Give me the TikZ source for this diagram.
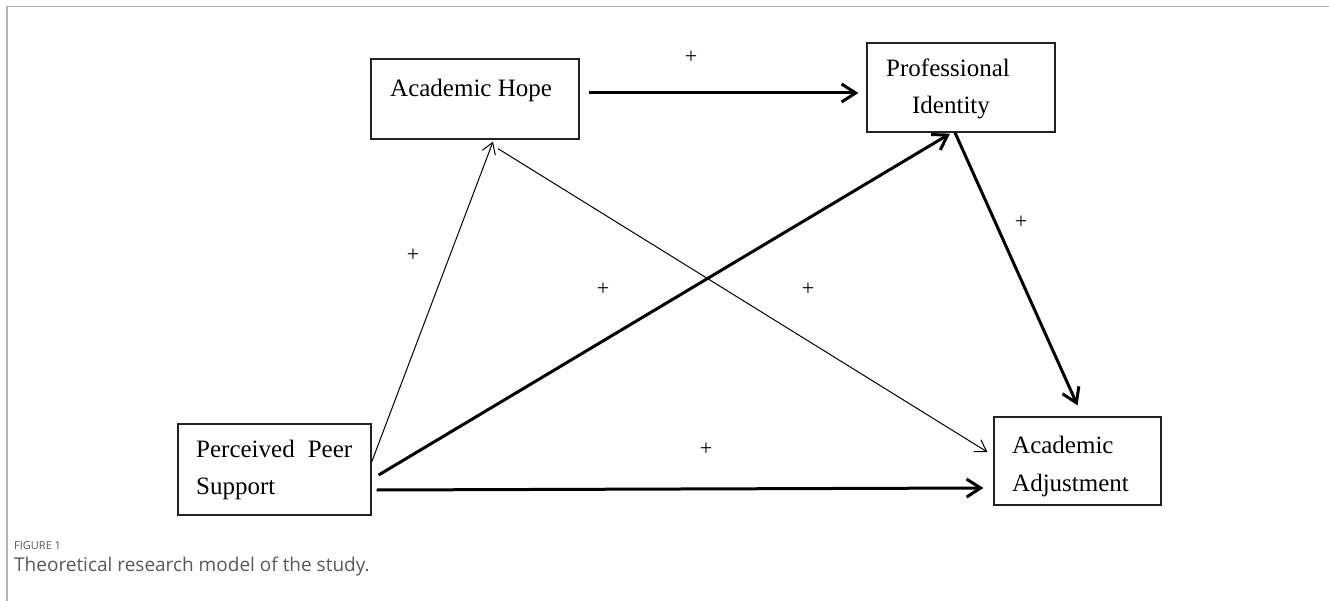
\documentclass[tikz,border=0pt]{standalone}
\usepackage{fontspec}
\setmainfont{Liberation Serif}
\newfontfamily\capfont{Open Sans}
\usetikzlibrary{arrows.meta,calc}
\definecolor{framecol}{HTML}{B4B4B4}
\definecolor{capcol}{HTML}{5A5A5A}
\definecolor{boxcol}{HTML}{222222}
\begin{document}
\begin{tikzpicture}[x=1pt,y=-1pt,
  box/.style={draw=boxcol,line width=1.3pt,rectangle,inner sep=0pt},
  txt/.style={font=\fontsize{25}{37.5}\selectfont,inner sep=0pt,anchor=base west},
  plus/.style={font=\fontsize{22}{26}\selectfont,inner sep=0pt},
  thick arrow/.style={line width=3pt,-{Straight Barb[length=14pt,width=18pt]}},
  thin arrow/.style={line width=1pt,-{Straight Barb[length=11pt,width=14pt]}},
  captxt/.style={font=\capfont,text=capcol,inner sep=0pt,anchor=west}]
\useasboundingbox (0,0) rectangle (1329,601);
\fill[white] (0,0) rectangle (1329,601);
\draw[framecol,line width=1.6pt] (7,601) -- (7,6.5) -- (1329,6.5);

% boxes
\node[box,minimum width=208pt,minimum height=80pt] (hope) at (475,99) {};
\node[box,minimum width=188pt,minimum height=89pt] (prof) at (961,87.5) {};
\node[box,minimum width=193pt,minimum height=91pt] (ppeer) at (274.5,469.5) {};
\node[box,minimum width=167pt,minimum height=88pt] (adj) at (1077.5,461) {};

% texts
\node[txt] (thope) at (390,96.7) {Academic Hope};
\node[txt,anchor=base] (tprof1) at (948,76.7) {Professional};
\node[txt,anchor=base] (tprof2) at (951,114) {Identity};
\node[txt] (tpp1) at (196,457) {Perceived\hspace{13pt}Peer};
\node[txt] (tpp2) at (196,494) {Support};
\node[txt] (tadj1) at (1012,453) {Academic};
\node[txt] (tadj2) at (1012,491) {Adjustment};

% connectors
\draw[thick arrow] ($(hope.east)+(9,-6)$) -- ($(prof.west)+(-8,5.5)$);
\draw[thick arrow] ($(prof.south)+(-6,0)$) -- ($(adj.north)+(0,-11)$);
\draw[thin arrow] ($(ppeer.east)+(0,-7.5)$) -- ($(hope.south)+(18,2)$);
\draw[thin arrow] ($(hope.south)+(23,9)$) -- ($(adj.west)+(-6,-9)$);
\draw[thick arrow] ($(ppeer.east)+(7,5.5)$) -- ($(prof.south)+(-11,1)$);
\draw[thick arrow] ($(ppeer.east)+(5,20.5)$) -- ($(adj.west)+(-10,27)$);

% plus signs
\node[plus] (p1) at (691,57) {+};
\node[plus] (p2) at (1021,222) {+};
\node[plus] (p3) at (413,255) {+};
\node[plus] (p4) at (603,289) {+};
\node[plus] (p5) at (808,289) {+};
\node[plus] (p6) at (706,449) {+};

% caption
\node[captxt,font=\capfont\fontsize{11}{13}\selectfont] (fig) at (14,546) {FIGURE 1};
\node[captxt,font=\capfont\fontsize{19}{22}\selectfont] (cap) at (14,567) {Theoretical research model of the study.};
\end{tikzpicture}
\end{document}
